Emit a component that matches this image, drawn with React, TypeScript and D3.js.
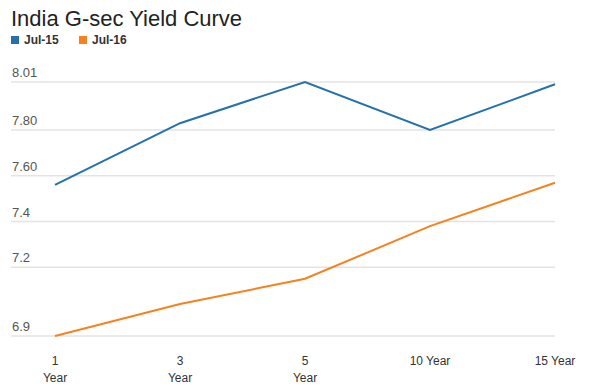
import React from "react";
import * as d3 from "d3";

const tenors = ["1 Year", "3 Year", "5 Year", "10 Year", "15 Year"];
const jul15 = [7.56, 7.83, 8.01, 7.8, 8.0];
const jul16 = [6.9, 7.04, 7.15, 7.38, 7.57];
const yTicks = [8.01, 7.8, 7.6, 7.4, 7.2, 6.9];
const yTickLabels = ["8.01", "7.80", "7.60", "7.4", "7.2", "6.9"];
// first three labels wrap onto two lines in the original
const wrapped = [true, true, true, false, false];

const series = [
  { name: "Jul-15", values: jul15, color: "#2471ab" },
  { name: "Jul-16", values: jul16, color: "#f5821f" }
];

const width = 602;
const height = 387;
const font = "'Liberation Sans', Arial, sans-serif";

export default function App() {
  const x = d3.scalePoint<string>().domain(tenors).range([55, 555]);
  const y = d3.scaleLinear().domain([6.9, 8.01]).range([336, 82]);

  const line = d3
    .line<number>()
    .x((_, i) => x(tenors[i]) as number)
    .y(d => y(d));

  return (
    <svg
      width={width}
      height={height}
      style={{ position: "absolute", left: 0, top: 0, background: "#fff" }}
      fontFamily={font}
    >
      <text x={11} y={26} fontSize={22} fill="#222">
        India G-sec Yield Curve
      </text>

      {series.map((s, i) => (
        <g key={s.name} transform={`translate(${11 + i * 68},36)`}>
          <rect width={8} height={8} fill={s.color} />
          <text x={13} y={8} fontSize={12} fontWeight="bold" fill="#333">
            {s.name}
          </text>
        </g>
      ))}

      <g>
        {yTicks.map((t, i) => (
          <g key={t}>
            <line x1={11} x2={555} y1={y(t)} y2={y(t)} stroke="#e3e3e3" strokeWidth={1.5} />
            <text x={12} y={y(t) - 5} fontSize={13} fill="#555">
              {yTickLabels[i]}
            </text>
          </g>
        ))}
      </g>

      <g>
        {tenors.map((c, i) => {
          const cx = x(c) as number;
          const parts = c.split(" ");
          return wrapped[i] ? (
            <text key={c} x={cx} textAnchor="middle" fontSize={12} fill="#333">
              <tspan x={cx} y={365}>{parts[0]}</tspan>
              <tspan x={cx} y={382}>{parts[1]}</tspan>
            </text>
          ) : (
            <text key={c} x={cx} y={365} textAnchor="middle" fontSize={12} fill="#333">
              {c}
            </text>
          );
        })}
      </g>

      {series.map(s => (
        <path
          key={s.name}
          d={line(s.values) || ""}
          fill="none"
          stroke={s.color}
          strokeWidth={2}
        />
      ))}
    </svg>
  );
}
